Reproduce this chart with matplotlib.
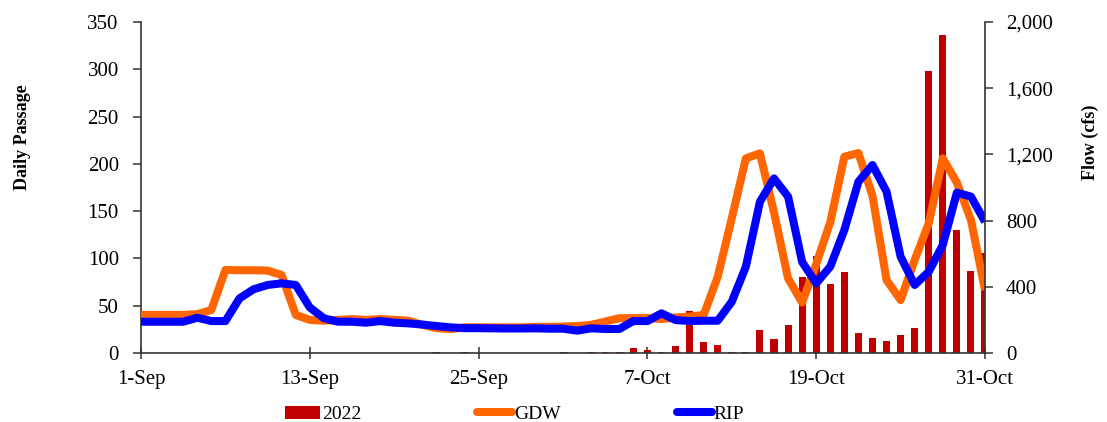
import matplotlib
matplotlib.use("Agg")
import matplotlib.pyplot as plt
from matplotlib.patches import Patch
from matplotlib.lines import Line2D
from matplotlib.ticker import FuncFormatter
import numpy as np

plt.rcParams["font.family"] = ["Liberation Serif", "DejaVu Serif"]
plt.rcParams["font.size"] = 15

# day 0 = 1-Sep ... day 60 = 31-Oct
days = np.arange(61)
tick_days = [0, 12, 24, 36, 48, 60]
tick_labels = ["1-Sep", "13-Sep", "25-Sep", "7-Oct", "19-Oct", "31-Oct"]

# daily passage, 2022
passage_2022 = [
    0, 0, 0, 0, 0, 0, 0, 0, 0, 0,
    0, 0, 0, 0, 0, 0, 0, 0, 0, 0,
    0, 1, 0, 1, 0, 0, 0, 0, 0, 0,
    1, 0, 1, 1, 1, 5, 3, 1, 7, 44,
    12, 8, 1, 1, 24, 15, 30, 80, 103, 73,
    86, 21, 16, 13, 19, 26, 298, 336, 130, 87,
    106,
]

# river flow (cfs)
flow_gdw = [
    230, 230, 230, 230, 235, 260, 502, 500, 500, 498,
    471, 230, 200, 195, 200, 205, 200, 205, 200, 195,
    170, 150, 145, 155, 155, 155, 155, 155, 158, 158,
    160, 163, 170, 190, 210, 211, 211, 205, 215, 220,
    230, 461, 815, 1176, 1206, 850, 451, 305, 537, 790,
    1186, 1208, 950, 441, 320, 562, 784, 1176, 1030, 804,
    381,
]
flow_rip = [
    189, 189, 189, 189, 213, 193, 193, 330, 385, 411,
    421, 411, 275, 210, 189, 189, 183, 193, 183, 179,
    172, 163, 155, 150, 150, 149, 148, 148, 149, 147,
    147, 135, 149, 145, 145, 193, 193, 240, 199, 193,
    195, 195, 310, 522, 914, 1055, 945, 550, 421, 522,
    743, 1035, 1136, 975, 582, 411, 491, 653, 969, 945,
    793,
]

bar_color = "#C00000"
gdw_color = "#FF6600"
rip_color = "#0000FF"
axis_color = "#333333"

fig = plt.figure(figsize=(11.07, 4.22), dpi=100)
ax = fig.add_axes([0.1274, 0.1635, 0.7624, 0.7844])
ax2 = ax.twinx()

ax.bar(days, passage_2022, width=0.5, color=bar_color, zorder=2)
line_kw = dict(linewidth=5.8, solid_joinstyle="round", solid_capstyle="butt")
ax2.plot(days, flow_gdw, color=gdw_color, **line_kw)
ax2.plot(days, flow_rip, color=rip_color, **line_kw)

ax.set_xlim(0, 60)
ax.set_ylim(0, 350)
ax2.set_ylim(0, 2000)
ax.set_yticks(range(0, 351, 50))
ax2.set_yticks(range(0, 2001, 400))
ax2.yaxis.set_major_formatter(FuncFormatter(lambda v, p: f"{int(v):,}"))
ax.set_xticks(tick_days)
ax.set_xticklabels(tick_labels)

for a in (ax, ax2):
    a.spines["top"].set_visible(False)
    for s in a.spines.values():
        s.set_color(axis_color)
        s.set_linewidth(1.2)
ax.spines["right"].set_visible(False)
ax2.spines["left"].set_visible(False)
ax2.spines["bottom"].set_visible(False)

ax.tick_params(axis="y", direction="out", length=6, width=1.1, color=axis_color, pad=10)
ax.tick_params(axis="x", direction="inout", length=9, width=1.1, color=axis_color, pad=8)
ax2.tick_params(axis="y", direction="out", length=6, width=1.1, color=axis_color, pad=9)

ax.set_ylabel("Daily Passage", fontweight="bold", fontsize=13)
ax.yaxis.set_label_coords(-0.13, 0.653)
ax2.set_ylabel("Flow (cfs)", fontweight="bold", fontsize=13)
ax2.yaxis.set_label_coords(1.115, 0.637)

handles = [
    Patch(facecolor=bar_color, edgecolor="none"),
    Line2D([0], [0], color=gdw_color, linewidth=5.8, solid_capstyle="round"),
    Line2D([0], [0], color=rip_color, linewidth=5.8, solid_capstyle="round"),
]
fig.legend(handles, ["2022", "GDW", "RIP"], loc="center", fontsize=14,
           bbox_to_anchor=(0.465, 0.018), ncol=3, frameon=False,
           handlelength=1.8, handletextpad=0.1, columnspacing=5.95)

fig.savefig("out.png", dpi=100)
